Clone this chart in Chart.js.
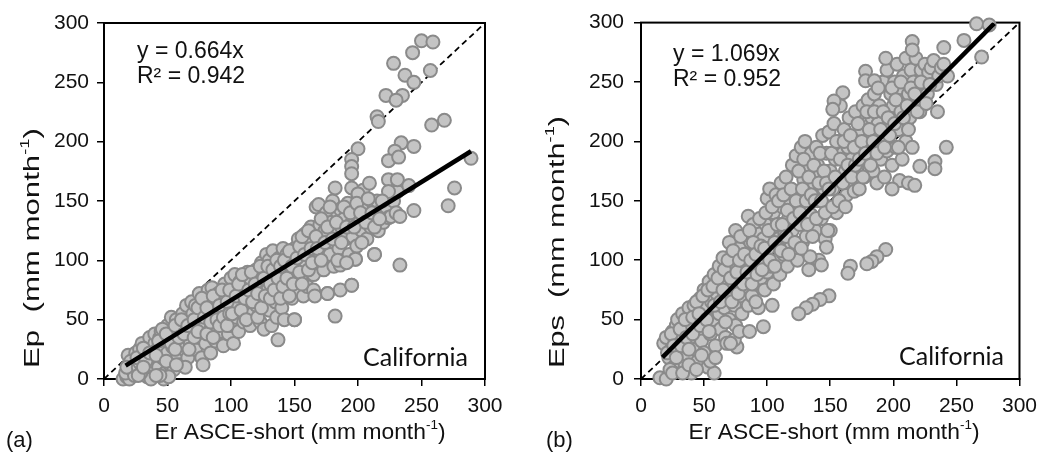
<!DOCTYPE html>
<html><head><meta charset="utf-8">
<script src="https://cdn.jsdelivr.net/npm/chart.js@4.4.0/dist/chart.umd.min.js"></script>
<style>
html,body{margin:0;padding:0;background:#fff;}
#wrap{position:relative;width:1045px;height:459px;overflow:hidden;}
canvas{position:absolute;top:0;}
#ca{left:0;} #cb{left:522px;}
</style></head><body>
<div id="wrap"><canvas id="ca" width="522" height="459" style="width:522px;height:459px"></canvas><canvas id="cb" width="523" height="459" style="width:523px;height:459px"></canvas></div>
<script>
// ---------- data ----------
const tickValues = [0, 50, 100, 150, 200, 250, 300];
const slopeA = 0.664, r2A = 0.942;
const slopeB = 1.069, r2B = 0.952;
const fitXA = [17, 289];
const fitXB = [17, 280];
const oneToOneX = [0, 300];

// Panel (a): Er ASCE-short (x) vs Ep (y)
const pointsA = [
[15,0],[18,2],[20,0],[17,5],[22,8],[20,12],[23,18],[19,20],[25,22],[21,15],[24,3],[18,10],
[27,10],[28,25],[30,18],[30,30],[32,5],[33,22],[35,28],[35,12],[36,35],[38,20],[38,8],[40,30],[40,38],[39,15],[34,2],[37,0],[28,14],
[42,25],[43,10],[44,35],[45,40],[46,18],[47,28],[48,5],[50,32],[50,22],[50,45],[52,12],[52,40],[53,52],[54,27],[55,8],[55,35],[47,0],[51,2],[44,3],
[57,50],[58,20],[58,42],[60,30],[60,12],[62,45],[62,55],[63,25],[65,38],[65,62],[66,18],[67,50],[68,30],[69,65],[70,42],[70,55],[64,10],
[72,25],[72,62],[73,48],[75,35],[75,72],[76,55],[77,18],[78,45],[80,65],[80,30],[82,75],[82,52],[83,40],[84,22],[85,60],[85,77],[78,12],
[87,45],[88,32],[88,68],[90,55],[90,72],[92,40],[93,62],[94,28],[95,50],[95,80],[96,70],[98,38],[98,58],[100,45],[100,85],[100,65],
[102,30],[102,75],[103,88],[104,52],[105,62],[106,40],[107,82],[108,70],[110,48],[110,58],[112,78],[113,90],[114,65],[115,45],[115,85],
[117,55],[118,72],[120,62],[120,92],[122,80],[123,48],[124,98],[125,68],[126,42],[127,88],[128,105],[129,75],[130,58],[130,100],
[132,45],[132,82],[133,108],[135,95],[135,65],[136,52],[137,33],[138,78],[138,102],[140,60],[140,88],[141,110],[142,50],[143,72],[145,95],[144,105],
[147,80],[148,68],[150,50],[150,110],[151,90],[152,75],[153,118],[155,100],[155,85],[157,70],[158,122],[159,95],[160,108],[160,78],
[162,115],[163,128],[165,88],[165,75],[166,70],[167,145],[168,100],[169,147],[170,118],[170,130],[172,108],[173,92],[174,125],[175,140],
[176,72],[177,115],[178,105],[179,132],[180,150],[181,95],[182,122],[182,161],[184,140],[185,110],[186,75],[186,143],[187,128],[188,98],[189,135],[190,118],
[192,148],[193,105],[194,130],[195,79],[195,161],[196,120],[197,140],[198,101],[199,112],[200,155],[201,132],[203,125],[204,159],[205,145],
[207,118],[208,138],[209,165],[210,128],[212,148],[213,105],[214,135],[215,150],[216,125],[218,142],[220,132],
[222,145],[224,136],[226,137],[228,150],[230,140],[233,137],[233,96],[231,158],
[250,285],[259,284],[243,275],[228,266],[257,260],[237,256],[244,250],[222,239],[235,239],[230,235],[215,221],[216,217],
[258,214],[268,218],[200,194],[234,199],[229,192],[244,196],[224,184],[232,187],[195,185],[195,179],[195,173],
[289,186],[276,161],[271,146],[244,142],[224,168],[231,168],[240,163],[224,158],[200,156],[186,96],
[213,105],[182,53],[150,50],[195,79],[176,72],[198,101],
[26,18],[29,5],[31,26],[33,15],[36,22],[41,20],[43,32],[46,42],[49,15],[49,38],[53,30],[56,25],[56,45],[59,35],[61,50],[63,38],[27,3],[31,10],[41,3],[57,12],
[66,45],[67,25],[71,35],[71,50],[74,60],[74,40],[77,68],[79,52],[81,38],[81,60],[84,48],[86,70],[86,35],[89,50],[91,62],[91,45],[93,75],[94,52],[97,65],[97,45],[99,75],[99,55],
[101,55],[104,70],[106,80],[108,58],[109,88],[111,68],[112,50],[114,75],[116,90],[117,65],[119,80],[121,52],[121,72],[123,95],[124,60],[126,85],[127,70],[129,95],[131,80],[131,68],[133,92],[134,75],[136,100],[137,85],[139,68],[139,95],[141,78],[142,100],[144,85],[146,70],[146,108],[148,95],[149,80],
[152,102],[154,90],[154,112],[156,80],[156,120],[158,105],[161,92],[161,125],[163,110],[164,98],[167,120],[168,110],[171,100],[171,135],[174,115],[176,128],[178,145],[180,118],[183,132],[184,100],[187,115],[189,145],[191,128],[191,98],[194,140],[197,128],[199,148],[202,140],[203,115],[206,132],[208,152],[211,140],[213,128],[217,135],[219,150]
];

// Panel (b): Er ASCE-short (x) vs Eps (y)
const pointsB = [
[15,1],[20,0],[18,30],[20,35],[22,18],[24,25],[25,40],[26,10],[27,32],[28,45],[30,22],[30,15],[29,50],[23,8],
[32,38],[33,55],[34,28],[35,12],[36,48],[37,20],[38,60],[39,35],[40,5],[40,45],[42,62],[43,25],[44,52],[45,40],[45,15],
[47,68],[48,32],[49,55],[50,22],[50,75],[51,45],[52,60],[53,10],[54,82],[55,38],[56,65],[57,50],[58,88],[59,28],[60,72],[58,5],[55,15],[59,18],
[62,55],[62,95],[63,42],[64,80],[65,102],[66,60],[67,35],[68,88],[69,70],[70,50],[70,115],[72,78],[73,98],[74,62],[75,125],[75,45],[76,27],[74,33],[68,30],
[77,85],[78,110],[79,70],[80,95],[80,55],[82,120],[83,78],[84,100],[85,137],[85,62],[86,88],[87,115],[88,70],[89,130],[90,95],[90,80],
[92,108],[93,60],[94,122],[95,85],[96,100],[97,118],[98,75],[99,130],[100,90],[100,152],[101,110],[102,160],[103,95],[104,125],[105,80],[105,140],[97,44],[104,62],
[107,155],[108,100],[109,118],[110,130],[110,88],[111,165],[112,145],[113,105],[114,122],[115,170],[116,95],[117,135],[118,150],[119,112],[120,180],[120,125],
[122,140],[123,188],[124,100],[125,158],[126,130],[127,195],[128,115],[129,168],[130,145],[130,200],[131,120],[132,178],[133,92],[134,155],[135,190],[135,138],
[137,165],[138,125],[139,195],[140,150],[140,180],[141,100],[142,172],[143,135],[144,205],[145,160],[146,118],[147,190],[148,145],[149,208],[150,175],[150,125],
[152,160],[153,215],[154,185],[155,140],[156,200],[157,168],[158,230],[159,150],[160,190],[161,210],[162,175],[163,155],[164,195],[165,220],[165,165],
[167,185],[168,200],[169,158],[170,225],[171,178],[172,195],[173,160],[174,210],[175,185],[176,230],[177,170],[178,200],[179,215],[180,188],[180,235],
[182,205],[183,220],[184,175],[185,240],[186,195],[187,165],[188,215],[189,230],[190,185],[191,205],[192,250],[193,170],[194,225],[195,192],[195,260],
[197,215],[198,240],[199,180],[200,230],[201,250],[202,195],[203,265],[204,210],[205,245],[206,225],[207,185],[208,255],[209,235],[210,200],[210,270],
[212,240],[213,220],[214,260],[215,195],[216,250],[217,230],[218,270],[220,245],[221,225],[222,260],[223,238],[225,265],[225,250],
[227,240],[228,258],[230,262],[232,268],[234,248],[236,255],[238,262],[240,265],[243,255],[235,225],
[266,299],[276,298],[270,271],[256,285],[240,279],[215,284],[215,277],[194,270],[178,259],[178,251],[185,251],[160,241],[153,234],[152,227],
[242,195],[221,179],[233,183],[233,177],[205,167],[212,165],[217,163],[199,160],
[147,111],[194,109],[187,103],[183,99],[179,97],[166,95],[164,89],[134,103],[143,96],
[149,70],[142,67],[136,63],[131,60],[125,55],
[21,22],[24,38],[26,28],[28,18],[31,42],[32,28],[35,50],[36,35],[38,25],[41,52],[41,38],[44,65],[46,55],[47,45],[49,70],[52,50],[53,75],[54,40],[57,78],[58,62],[25,5],[33,5],[38,12],[44,8],[48,20],
[61,85],[63,65],[65,75],[66,92],[67,48],[69,100],[71,85],[72,65],[73,108],[76,90],[77,72],[78,100],[79,120],[81,80],[82,105],[84,90],[86,125],[87,100],[88,80],[89,115],[91,105],[92,88],[94,135],[95,112],[96,92],[98,110],[99,140],[71,30],[78,40],[86,40],[91,65],
[101,125],[102,100],[104,145],[106,115],[106,95],[108,130],[109,150],[111,108],[112,130],[113,155],[115,120],[116,142],[117,105],[119,160],[121,135],[122,115],[123,150],[125,175],[126,140],[127,110],[128,160],[129,185],[131,150],[132,130],[133,170],[135,155],[136,120],[137,180],[138,150],[139,135],[141,165],[142,190],[143,150],[145,175],[146,140],[147,165],[148,125],[149,160],
[151,190],[152,145],[154,170],[155,200],[157,150],[158,185],[160,165],[161,200],[162,145],[164,180],[166,205],[167,170],[169,195],[170,180],[172,215],[173,185],[175,200],[176,170],[178,190],[179,225],[181,210],[182,180],[184,200],[185,225],[187,190],[188,245],[190,210],[192,225],[193,195],[196,220],[197,205],[199,245],[201,215],[202,235],[204,195],[206,250],[208,220],[211,230],[212,210],[214,245],[217,240],[219,225],[222,250],[226,232],[229,248]
];

// ---------- helpers ----------
const FONT = '"Liberation Sans", Arial, sans-serif';
function toXY(arr){ return arr.map(p => ({x: p[0], y: p[1]})); }
function lineXY(xs, slope){ return xs.map(x => ({x: x, y: slope * x})); }

function drawRich(ctx, parts, x, y, rot, size, align, targetW){
  ctx.save();
  ctx.translate(x, y);
  if (rot) ctx.rotate(rot);
  let total = 0;
  parts.forEach(p => {
    ctx.font = (p.sup ? Math.round(size*0.6) : size) + 'px ' + FONT;
    p.w = ctx.measureText(p.t).width; total += p.w;
  });
  if (targetW) { ctx.scale(targetW/total, 1); }
  let cx = align === 'center' ? -total/2 : 0;
  ctx.textBaseline = 'middle';
  ctx.fillStyle = '#111';
  parts.forEach(p => {
    ctx.font = (p.sup ? Math.round(size*0.6) : size) + 'px ' + FONT;
    ctx.fillText(p.t, cx, p.sup ? -size*0.33 : 0);
    cx += p.w;
  });
  ctx.restore();
}

function makeChart(id, pts, slope, fitX, cfg){
  const framePlugin = {
    id: 'frame',
    beforeDatasetsDraw(chart){
      const a = chart.chartArea, c = chart.ctx;
      c.save(); c.strokeStyle = '#000'; c.lineWidth = 2;
      c.strokeRect(a.left, a.top, a.right - a.left, a.bottom - a.top);
      c.restore();
    }
  };
  const textPlugin = {
    id: 'texts',
    afterDraw(chart){
      const c = chart.ctx;
      drawRich(c, [{t: cfg.yName + '  (mm month'}, {t: '-1', sup: true}, {t: ')'}], cfg.yTitleX, cfg.yTitleY, -Math.PI/2, 22, 'center', cfg.yTitleLen);
      drawRich(c, [{t: 'Er ASCE-short (mm month'}, {t: '-1', sup: true}, {t: ')'}], cfg.xTitleX, cfg.xTitleY, 0, 22, 'center', 291);
      drawRich(c, [{t: cfg.panel}], cfg.panelX, cfg.panelY, 0, 22, 'left');
      drawRich(c, [{t: 'y = ' + slope.toFixed(3) + 'x'}], cfg.eqX, cfg.eqY, 0, 23, 'left');
      drawRich(c, [{t: 'R\u00B2 = ' + cfg.r2.toFixed(3)}], cfg.eqX, cfg.eqY + 25, 0, 23, 'left');
      c.save();
      c.font = '25px Lato, "Open Sans", sans-serif';
      c.fillStyle = '#111'; c.textBaseline = 'middle'; c.textAlign = 'left';
      c.fillText('California', cfg.calX, cfg.calY);
      c.restore();
    }
  };
  const scaleCommon = (isY) => ({
    type: 'linear', min: 0, max: 300,
    afterBuildTicks: s => { s.ticks = tickValues.map(v => ({value: v})); },
    ticks: { color: '#111', font: {family: FONT, size: 21}, padding: isY ? cfg.yPad : 8, autoSkip: false, maxRotation: 0 },
    grid: { display: true, drawOnChartArea: false, drawTicks: true, tickLength: 7, color: '#000', lineWidth: 1.5 },
    border: { display: true, color: '#000', width: 2 },
    afterFit: s => { if (isY) s.width = cfg.yWidth; else s.height = 80; }
  });
  return new Chart(document.getElementById(id), {
    type: 'scatter',
    data: {
      datasets: [
        { type: 'line', data: lineXY(fitX, slope), borderColor: '#000', borderWidth: 4.5, pointRadius: 0, order: 0, fill: false },
        { data: toXY(pts), backgroundColor: '#c4c4c4', borderColor: '#8a8a8a', borderWidth: 2, pointRadius: 6.5, order: 1, clip: false },
        { type: 'line', data: lineXY(oneToOneX, 1), borderColor: '#000', borderWidth: 1.8, borderDash: [6, 4], pointRadius: 0, order: 2, fill: false }
      ]
    },
    options: {
      responsive: false, animation: false, devicePixelRatio: 1,
      layout: { padding: { left: 0, right: cfg.padRight, top: cfg.padTop, bottom: 0 } },
      plugins: { legend: { display: false }, tooltip: { enabled: false } },
      scales: { x: scaleCommon(false), y: scaleCommon(true) }
    },
    plugins: [framePlugin, textPlugin]
  });
}

makeChart('ca', pointsA, slopeA, fitXA, {
  yName: 'Ep', r2: r2A, panel: '(a)',
  yWidth: 104, padRight: 37, padTop: 23, yPad: 8,
  yTitleX: 33, yTitleY: 248, yTitleLen: 240, xTitleX: 300, xTitleY: 433,
  panelX: 6, panelY: 441, eqX: 137, eqY: 52, calX: 363, calY: 358
});
makeChart('cb', pointsB, slopeB, fitXB, {
  yName: 'Eps', r2: r2B, panel: '(b)',
  yWidth: 119, padRight: 21, padTop: 22, yPad: 10,
  yTitleX: 36, yTitleY: 242, yTitleLen: 252, xTitleX: 312, xTitleY: 433,
  panelX: 24, panelY: 441, eqX: 151, eqY: 55, calX: 377, calY: 357
});
</script>
</body></html>
